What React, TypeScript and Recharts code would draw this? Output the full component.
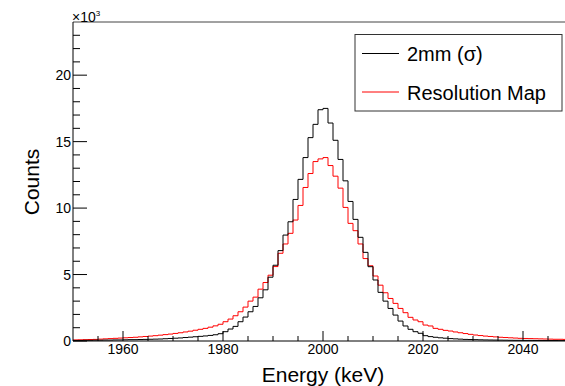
import { Line, LineChart, ReferenceLine, XAxis, YAxis } from "recharts";

// bin low edges, keV (1 keV bins)
const binEdges = [
  1950, 1951, 1952, 1953, 1954, 1955, 1956, 1957, 1958, 1959,
  1960, 1961, 1962, 1963, 1964, 1965, 1966, 1967, 1968, 1969,
  1970, 1971, 1972, 1973, 1974, 1975, 1976, 1977, 1978, 1979,
  1980, 1981, 1982, 1983, 1984, 1985, 1986, 1987, 1988, 1989,
  1990, 1991, 1992, 1993, 1994, 1995, 1996, 1997, 1998, 1999,
  2000, 2001, 2002, 2003, 2004, 2005, 2006, 2007, 2008, 2009,
  2010, 2011, 2012, 2013, 2014, 2015, 2016, 2017, 2018, 2019,
  2020, 2021, 2022, 2023, 2024, 2025, 2026, 2027, 2028, 2029,
  2030, 2031, 2032, 2033, 2034, 2035, 2036, 2037, 2038, 2039,
  2040, 2041, 2042, 2043, 2044, 2045, 2046, 2047, 2048, 2049,
];
const lastEdge = 2050;

// "2mm (σ)"
const sigma2mm = [
  40, 40, 50, 50, 60, 60, 70, 70, 80, 80,
  90, 100, 100, 110, 120, 130, 140, 150, 170, 190,
  210, 230, 260, 290, 320, 350, 380, 420, 470, 550,
  700, 900, 1100, 1450, 1800, 2200, 2600, 3250, 3850, 4800,
  5700, 6800, 7970, 8970, 10650, 12160, 13800, 15300, 16300, 17400,
  17500, 16400, 15100, 13660, 12050, 10500, 9150, 7800, 6670, 5590,
  4590, 3660, 3000, 2450, 1950, 1500, 1130, 880, 700, 580,
  400, 330, 280, 240, 210, 180, 160, 140, 120, 110,
  100, 90, 80, 75, 70, 65, 60, 55, 50, 50,
  45, 45, 40, 40, 35, 35, 35, 30, 30, 30,
];

// "Resolution Map"
const resolutionMap = [
  80, 90, 100, 110, 120, 140, 160, 180, 200, 220,
  240, 260, 280, 310, 340, 370, 400, 440, 480, 520,
  570, 620, 680, 740, 810, 880, 950, 1040, 1140, 1260,
  1450, 1650, 1900, 2200, 2550, 3000, 3300, 3900, 4400, 4950,
  5600, 6600, 7300, 8100, 9100, 10200, 11550, 12600, 13500, 13700,
  13800, 13200, 12400, 11500, 10050, 8850, 8300, 7300, 6200, 5660,
  4890, 4200, 3630, 3200, 2830, 2450, 2130, 1780, 1580, 1450,
  1200, 1130, 950, 880, 800, 750, 680, 620, 560, 500,
  450, 410, 370, 340, 310, 280, 260, 240, 220, 200,
  190, 180, 170, 160, 150, 140, 130, 130, 120, 120,
];

const xLabels = [1960, 1980, 2000, 2020, 2040];
const xTicks = [
  1955, 1960, 1965, 1970, 1975, 1980, 1985, 1990, 1995, 2000,
  2005, 2010, 2015, 2020, 2025, 2030, 2035, 2040, 2045,
];
const yLabels = [0, 5000, 10000, 15000, 20000];
const yTicks = [
  0, 1000, 2000, 3000, 4000, 5000, 6000, 7000, 8000, 9000, 10000, 11000,
  12000, 13000, 14000, 15000, 16000, 17000, 18000, 19000, 20000, 21000,
  22000, 23000,
];

const data = [
  ...binEdges.map((e, i) => ({ e, sigma: sigma2mm[i], res: resolutionMap[i] })),
  {
    e: lastEdge,
    sigma: sigma2mm[sigma2mm.length - 1],
    res: resolutionMap[resolutionMap.length - 1],
  },
];

const FONT = "'Liberation Sans', Arial, Helvetica, sans-serif";
const LEFT = 73;
const TOP = 22;
const BOTTOM = 341;

function XTick(props: any) {
  const { x, payload } = props;
  const v = payload.value;
  const major = xLabels.includes(v);
  return (
    <g>
      <line x1={x} x2={x} y1={BOTTOM} y2={BOTTOM - (major ? 10 : 5)} stroke="#000" />
      {major && (
        <text x={x} y={354} textAnchor="middle" fontSize={14} fontFamily={FONT} fill="#000">
          {v}
        </text>
      )}
    </g>
  );
}

function YTick(props: any) {
  const { y, payload } = props;
  const v = payload.value;
  const major = yLabels.includes(v);
  return (
    <g>
      <line x1={LEFT} x2={LEFT + (major ? 14 : 7)} y1={y} y2={y} stroke="#000" />
      {major && (
        <text x={71} y={y + 5} textAnchor="end" fontSize={14} fontFamily={FONT} fill="#000">
          {v / 1000}
        </text>
      )}
    </g>
  );
}

export default function App() {
  return (
    <div
      style={{
        position: "absolute",
        left: 0,
        top: 0,
        width: 565,
        height: 386,
        overflow: "hidden",
        background: "#fff",
      }}
    >
      <LineChart
        width={580}
        height={386}
        data={data}
        margin={{ top: TOP, right: 7, left: 33, bottom: 0 }}
      >
        <XAxis
          dataKey="e"
          type="number"
          domain={[1950, 2050]}
          ticks={xTicks}
          interval={0}
          tick={<XTick />}
          tickLine={false}
          axisLine={{ stroke: "#000" }}
          height={45}
          allowDataOverflow
        />
        <YAxis
          type="number"
          domain={[0, 24000]}
          ticks={yTicks}
          interval={0}
          tick={<YTick />}
          tickLine={false}
          axisLine={{ stroke: "#000" }}
          width={40}
          allowDataOverflow
        />
        <ReferenceLine y={24000} stroke="#444" ifOverflow="visible" />
        <Line
          dataKey="res"
          type="stepAfter"
          stroke="#ff0000"
          strokeWidth={1}
          dot={false}
          isAnimationActive={false}
        />
        <Line
          dataKey="sigma"
          type="stepAfter"
          stroke="#000"
          strokeWidth={1}
          dot={false}
          isAnimationActive={false}
        />
      </LineChart>
      <svg
        width={565}
        height={386}
        style={{ position: "absolute", left: 0, top: 0, pointerEvents: "none" }}
        fontFamily={FONT}
      >
        <text x={72} y={21.5} fontSize={14} fill="#000">
          ×10
          <tspan fontSize={8} dy={-6}>3</tspan>
        </text>
        <text
          x={39}
          y={182}
          fontSize={21}
          fill="#000"
          textAnchor="middle"
          transform="rotate(-90 39 182)"
        >
          Counts
        </text>
        <text x={323} y={382} fontSize={21} fill="#000" textAnchor="middle">
          Energy (keV)
        </text>
        <rect x={355} y={34.5} width={207} height={76.5} fill="#fff" stroke="#333" />
        <line x1={362} x2={399} y1={53.5} y2={53.5} stroke="#000" />
        <text x={407} y={61} fontSize={20} fill="#000">
          2mm (σ)
        </text>
        <line x1={362} x2={399} y1={92} y2={92} stroke="#ff0000" />
        <text x={407} y={100} fontSize={20} fill="#000">
          Resolution Map
        </text>
      </svg>
    </div>
  );
}
